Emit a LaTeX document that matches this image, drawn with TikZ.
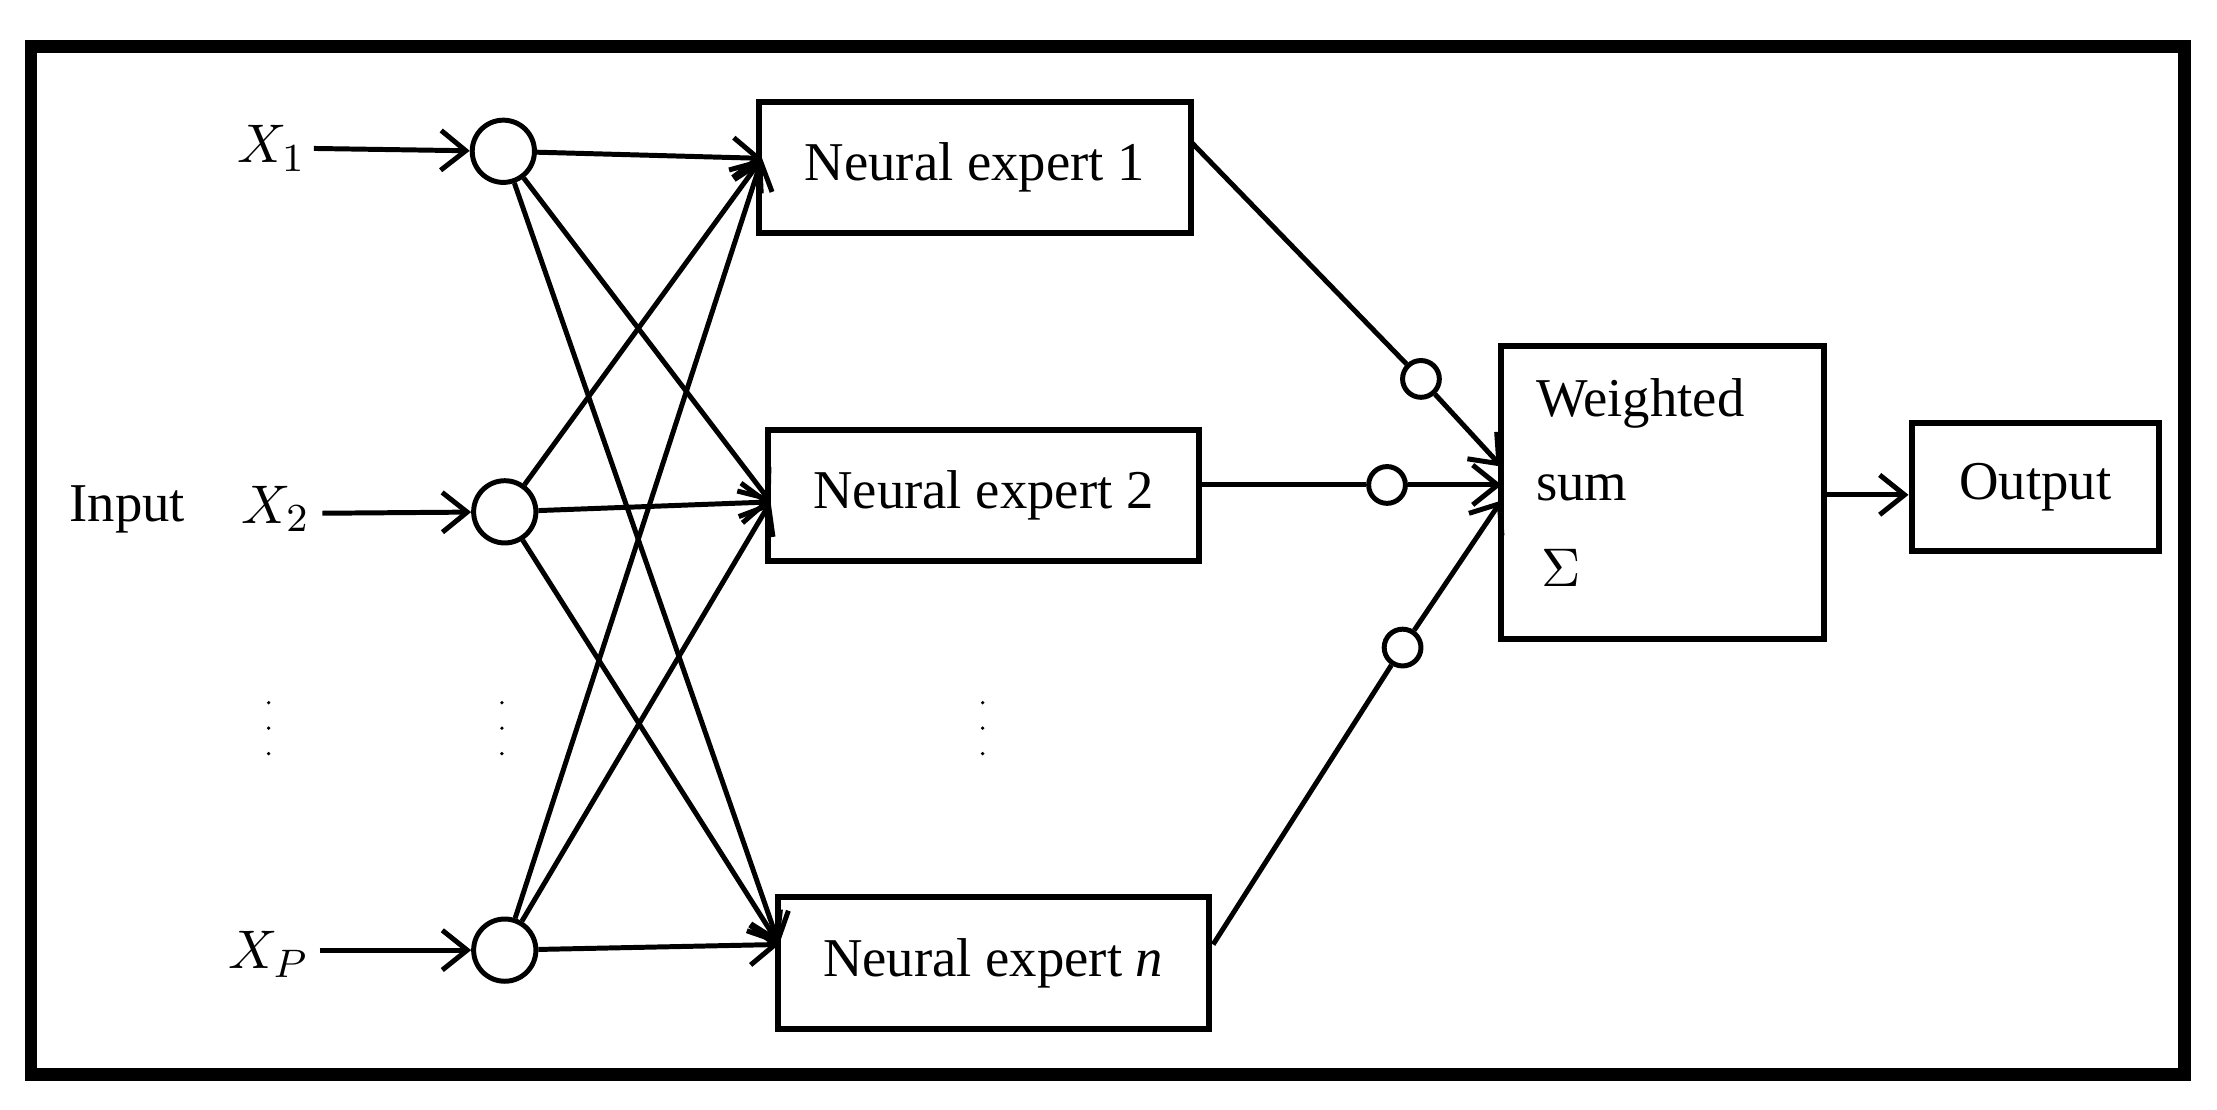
\documentclass[tikz,border=0pt]{standalone}
\usepackage{fontspec}
\setmainfont{Liberation Serif}
\usetikzlibrary{arrows.meta}
\begin{document}
\begin{tikzpicture}[x=0.01cm,y=-0.01cm,
  box/.style={draw,line width=1.2pt,minimum height=0.93cm,inner sep=0pt},
  inc/.style={draw,circle,line width=1pt,minimum size=0.44cm,inner sep=0pt},
  sc/.style={draw,circle,line width=1pt,minimum size=0.26cm,inner sep=0pt},
  ar/.style={line width=1pt,-{Straight Barb[length=5pt,width=8pt]}},
  ln/.style={line width=1pt},
  lab/.style={font=\fontsize{11pt}{13pt}\selectfont}]
\useasboundingbox (0,0) rectangle (1568,785);
\draw[line width=2.5pt] (22,33) rectangle (1545,760);
\node[lab] (in) at (90,360) {Input};
\node[lab] (x1) at (192,105) {$X_1$};
\node[lab] (x2) at (195,360) {$X_2$};
\node[lab] (xp) at (190,675) {$X_P$};
\node[inc] (c1) at (356,107) {};
\node[inc] (c2) at (357,362) {};
\node[inc] (c3) at (357,672) {};
\coordinate (a1) at (222,105); \coordinate (a2) at (228,363); \coordinate (a3) at (226,672);
\draw[ar] (a1) -- (c1); \draw[ar] (a2) -- (c2); \draw[ar] (a3) -- (c3);
\node[box,minimum width=3.05cm] (e1) at (689.5,118.5) {};
\node[lab] at (e1) {Neural expert 1};
\node[box,minimum width=3.05cm] (e2) at (695.5,350.5) {};
\node[lab] at (e2) {Neural expert 2};
\node[box,minimum width=3.05cm] (e3) at (702.5,681) {};
\node[lab] at (e3) {Neural expert \textit{n}};
\coordinate (t1) at (539,112); \coordinate (t2) at (545,355); \coordinate (t3) at (551,668);
\foreach \c in {c1,c2,c3}{\foreach \t in {t1,t2,t3}{\draw[ar] (\c) -- (\t);}}
\foreach \x in {190,355,695}{\foreach \y in {497,515,533}{\fill (\x,\y) circle (1.3);}}
\node[box,minimum width=2.28cm,minimum height=2.07cm] (ws) at (1176,348.5) {};
\node[lab,anchor=north west,align=left] at (1074,255) {Weighted\\[4pt]sum};
\node[lab] at (1104,402) {$\Sigma$};
\node[box,minimum width=1.75cm,minimum height=0.91cm] (out) at (1439.5,344.5) {};
\node[lab] at (out) {Output};
\node[sc] (s1) at (1005,268) {};
\node[sc] (s2) at (981,343) {};
\node[sc] (s3) at (992,458) {};
\coordinate (w1) at (1062,330); \coordinate (w2) at (1062,343); \coordinate (w3) at (1062,354);
\coordinate (o1) at (842,100); \coordinate (o2) at (848,343); \coordinate (o3) at (858,668);
\draw[ln] (o1) -- (s1); \draw[ar] (s1) -- (w1);
\draw[ln] (o2) -- (s2); \draw[ar] (s2) -- (w2);
\draw[ln] (o3) -- (s3); \draw[ar] (s3) -- (w3);
\coordinate (wo) at (1290,350);
\draw[ar] (wo) -- (out.west |- wo);
\end{tikzpicture}
\end{document}
